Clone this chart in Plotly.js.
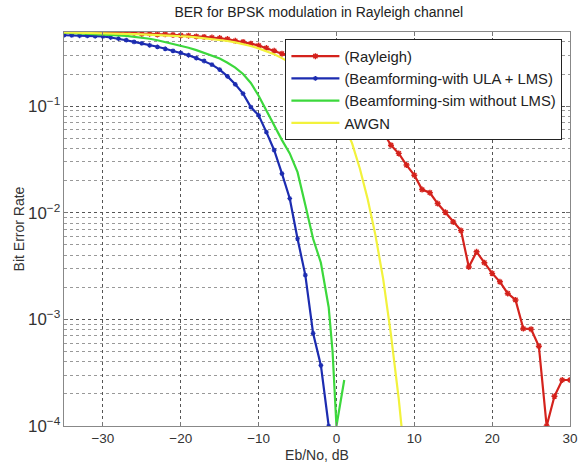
<!DOCTYPE html>
<html>
<head>
<meta charset="utf-8">
<script src="https://cdn.plot.ly/plotly-3.0.1.min.js"></script>
<style>html,body{margin:0;padding:0;background:#fff;}#chart{width:587px;height:468px;}</style>
</head>
<body>
<div id="chart"></div>
<script>
// Eb/No (dB) sample points
const ebnoRayleigh = [-35,-34,-33,-32,-31,-30,-29,-28,-27,-26,-25,-24,-23,-22,-21,-20,-19,-18,-17,-16,-15,-14,-13,-12,-11,-10,-9,-8,-7,-6,-5,-4,-3,-2,-1,0,1,2,3,4,5,6,7,8,9,10,11,12,13,14,15,16,17,18,19,20,21,22,23,24,25,26,27,28,29,30];
const berRayleigh = [0.49,0.49,0.495,0.49,0.485,0.49,0.50,0.485,0.48,0.485,0.475,0.478,0.47,0.472,0.465,0.46,0.458,0.45,0.445,0.44,0.435,0.425,0.41,0.40,0.385,0.37,0.35,0.33,0.31,0.29,0.27,0.25,0.225,0.2,0.175,0.152,0.13,0.11,0.094,0.08,0.066,0.057,0.043,0.036,0.028,0.0225,0.0165,0.0154,0.0122,0.0101,0.0082,0.0068,0.0031,0.0043,0.0034,0.0027,0.00225,0.00175,0.00152,0.00082,0.00081,0.00056,0.0001,0.00019,0.00027,0.00027];

const ebnoLMS = [-35,-34,-33,-32,-31,-30,-29,-28,-27,-26,-25,-24,-23,-22,-21,-20,-19,-18,-17,-16,-15,-14,-13,-12,-11,-10,-9,-8,-7,-6,-5,-4,-3,-2,-1];
const berLMS = [0.462,0.46,0.457,0.455,0.452,0.45,0.44,0.43,0.415,0.40,0.388,0.372,0.36,0.345,0.33,0.315,0.30,0.282,0.265,0.245,0.22,0.19,0.16,0.131,0.098,0.082,0.057,0.0386,0.0233,0.0136,0.0057,0.0026,0.00074,0.00037,0.0001];

const ebnoNoLMS = [-35,-34,-33,-32,-31,-30,-29,-28,-27,-26,-25,-24,-23,-22,-21,-20,-19,-18,-17,-16,-15,-14,-13,-12,-11,-10,-9,-8,-7,-6,-5,-4,-3,-2,-1,-0.5,0,1];
const berNoLMS = [0.488,0.485,0.482,0.478,0.474,0.47,0.466,0.461,0.455,0.447,0.438,0.428,0.415,0.40,0.386,0.37,0.353,0.335,0.315,0.298,0.279,0.255,0.23,0.20,0.165,0.125,0.09,0.065,0.048,0.036,0.024,0.0118,0.0057,0.0034,0.0013,0.0005,0.0001,0.00027];

const ebnoAWGN = [-35,-34,-33,-32,-31,-30,-29,-28,-27,-26,-25,-24,-23,-22,-21,-20,-19,-18,-17,-16,-15,-14,-13,-12,-11,-10,-9,-8,-7,-6,-5,-4,-3,-2,-1,0,1,2,3,4,5,6,7,8,9];
const berAWGN = [0.49,0.489,0.488,0.486,0.484,0.482,0.48,0.478,0.476,0.474,0.471,0.468,0.465,0.461,0.457,0.453,0.448,0.442,0.435,0.427,0.419,0.408,0.396,0.382,0.366,0.348,0.328,0.306,0.282,0.256,0.228,0.2,0.172,0.145,0.118,0.09,0.066,0.045,0.026,0.0135,0.0062,0.0024,0.00072,0.00018,0.000034];

const seriesNames = ['(Rayleigh)','(Beamforming-with ULA + LMS)','(Beamforming-sim without LMS)','AWGN'];
const seriesColors = ['#d4221c','#1c2cb0','#3cd83c','#f2f23c'];

const traces = [
  {x: ebnoRayleigh, y: berRayleigh, name: seriesNames[0], mode: 'lines+markers',
   line: {color: seriesColors[0], width: 2.2},
   marker: {symbol: 'asterisk-open', size: 5, color: seriesColors[0], line: {color: seriesColors[0], width: 1.4}}},
  {x: ebnoLMS, y: berLMS, name: seriesNames[1], mode: 'lines+markers',
   line: {color: seriesColors[1], width: 2.2},
   marker: {symbol: 'asterisk-open', size: 4, color: seriesColors[1], line: {color: seriesColors[1], width: 1.2}}},
  {x: ebnoNoLMS, y: berNoLMS, name: seriesNames[2], mode: 'lines',
   line: {color: seriesColors[2], width: 2.2}},
  {x: ebnoAWGN, y: berAWGN, name: seriesNames[3], mode: 'lines',
   line: {color: seriesColors[3], width: 2.2}}
];

const fontFam = 'Liberation Sans, Arial, sans-serif';
const layout = {
  width: 587, height: 468,
  margin: {l: 64, r: 17, t: 32, b: 42},
  paper_bgcolor: '#fff', plot_bgcolor: '#fff',
  font: {family: fontFam, size: 13, color: '#333'},
  showlegend: true,
  title: {text: 'BER for BPSK modulation in Rayleigh channel', x: 0.543, xanchor: 'center', y: 0.974, yanchor: 'middle', font: {size: 14, color: '#222', family: fontFam}},
  xaxis: {
    range: [-35, 30], tick0: 0, dtick: 10, ticks: 'inside', ticklen: 4, tickcolor: '#777',
    showline: true, linecolor: '#888', linewidth: 1, mirror: 'ticks',
    showgrid: true, gridcolor: '#555', griddash: 'dot', gridwidth: 1, zeroline: false,
    tickfont: {size: 13.5, color: '#333'},
    title: {text: 'Eb/No, dB', font: {size: 14, color: '#333'}, standoff: 4}
  },
  yaxis: {
    type: 'log', range: [-4, -0.305], dtick: 1, exponentformat: 'power', showexponent: 'all',
    ticks: 'inside', ticklen: 4, tickcolor: '#777',
    showline: true, linecolor: '#888', linewidth: 1, mirror: 'ticks',
    showgrid: true, gridcolor: '#555', griddash: 'dot', gridwidth: 1, zeroline: false,
    minor: {dtick: 'D1', showgrid: true, gridcolor: '#999', griddash: 'dot', ticks: 'inside', ticklen: 2, tickcolor: '#999'},
    tickfont: {size: 13.5, color: '#333'},
    title: {text: 'Bit Error Rate', font: {size: 14, color: '#333'}, standoff: 0}
  },
  legend: {
    x: 0.985, xanchor: 'right', y: 0.982, yanchor: 'top',
    bgcolor: '#fff', bordercolor: '#222', borderwidth: 1,
    font: {size: 14.8, color: '#222', family: fontFam},
    itemwidth: 48, tracegroupgap: 0
  }
};

Plotly.newPlot('chart', traces, layout, {displayModeBar: false, staticPlot: true});
</script>
</body>
</html>
